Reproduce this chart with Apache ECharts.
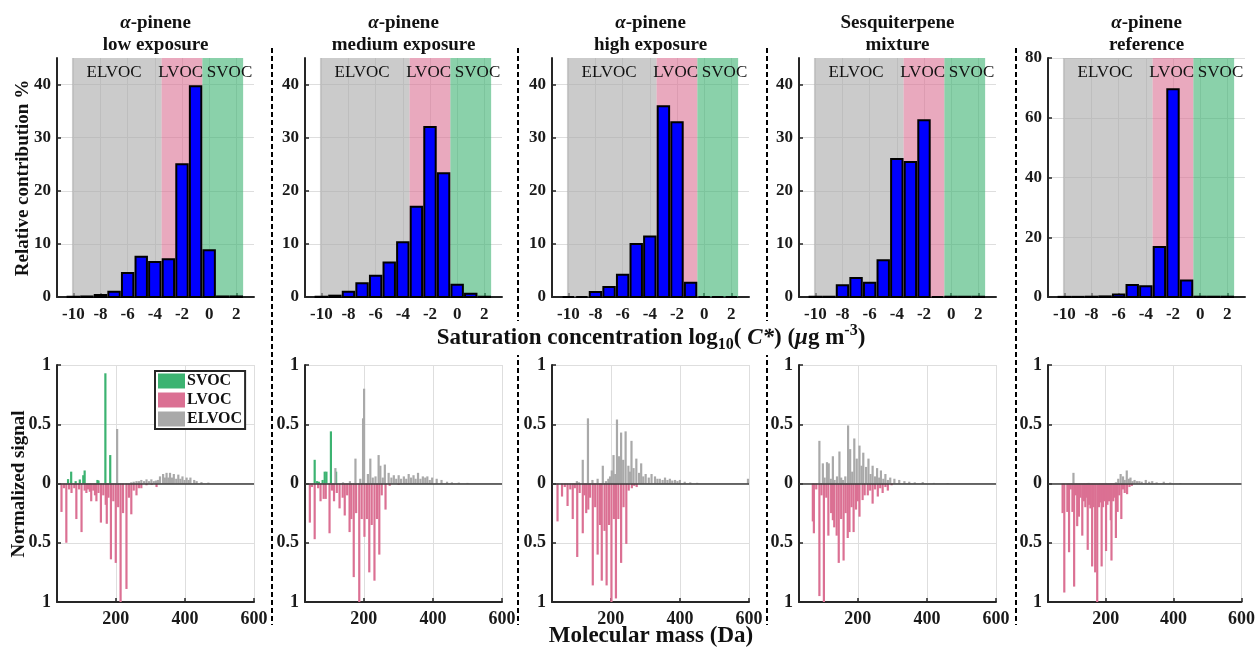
<!DOCTYPE html>
<html><head><meta charset="utf-8">
<script src="https://cdn.jsdelivr.net/npm/echarts@6/dist/echarts.min.js"></script>
<style>html,body{margin:0;padding:0;background:#fff}#c{width:1258px;height:650px}</style>
</head><body><div id="c"></div>
<script>
// ---------------- data ----------------
const panelTitles = [
  ['α-pinene', 'low exposure'],
  ['α-pinene', 'medium exposure'],
  ['α-pinene', 'high exposure'],
  ['Sesquiterpene', 'mixture'],
  ['α-pinene', 'reference']
];
const binCenters = [-10, -9, -8, -7, -6, -5, -4, -3, -2, -1, 0, 1, 2];
const histLow  = [0.05, 0.1, 0.4, 1.0, 4.5, 7.6, 6.6, 7.1, 25.0, 39.7, 8.8, 0.1, 0.1];
const histMed  = [0.05, 0.25, 1.0, 2.6, 4.0, 6.5, 10.3, 17.0, 32.0, 23.3, 2.3, 0.6, 0.05];
const histHigh = [0, 0, 0.94, 1.9, 4.2, 10.0, 11.4, 35.9, 32.9, 2.7, 0, 0, 0];
const histSesq = [0.05, 0.05, 2.2, 3.6, 2.7, 6.9, 26.0, 25.4, 33.3, 0, 0.05, 0.05, 0.05];
const histRef  = [0.05, 0.05, 0.1, 0.2, 0.8, 4.0, 3.6, 16.7, 69.5, 5.5, 0.1, 0.1, 0.1];
const histYMax = [45, 45, 45, 45, 80];
const histYTicks = [[0,10,20,30,40],[0,10,20,30,40],[0,10,20,30,40],[0,10,20,30,40],[0,20,40,60,80]];
const logCTicks = [-10, -8, -6, -4, -2, 0, 2];
const volatilityClasses = ['ELVOC', 'LVOC', 'SVOC'];
const classEdges = [[-10.1, -3.5], [-3.5, -0.5], [-0.5, 2.5]];
const classLabelX = [-7.0, -2.1, 1.5];
const massTicks = [200, 400, 600];
const signalTicks = [-1, -0.5, 0, 0.5, 1];

// stick spectra [mass (Da), normalized signal]; LVOC plotted downward
const svoc1 = [[62,0.037],[71,0.1],[84,0.02],[96,0.034],[106,0.07],[110,0.11],[147,0.03],[150,0.025],[170,0.93],[184,0.24]];
const lvoc1 = [[43,-0.24],[50,-0.04],[57,-0.5],[65,-0.05],[72,-0.08],[80,-0.04],[86,-0.3],[94,-0.05],[101,-0.41],[110,-0.06],[115,-0.08],[120,-0.05],[125,-0.07],[129,-0.15],[135,-0.06],[140,-0.1],[144,-0.15],[150,-0.08],[157,-0.33],[164,-0.1],[171,-0.18],[174,-0.34],[179,-0.12],[186,-0.64],[193,-0.15],[200,-0.67],[207,-0.2],[214,-1.0],[221,-0.25],[231,-0.89],[238,-0.12],[245,-0.26],[252,-0.06],[260,-0.1],[267,-0.04],[274,-0.04],[289,-0.015],[304,-0.01],[318,-0.03]];
const elvoc1 = [[204,0.46],[245,0.01],[252,0.015],[260,0.02],[267,0.02],[274,0.03],[282,0.02],[289,0.035],[296,0.02],[303,0.035],[310,0.02],[316,0.025],[322,0.03],[328,0.06],[337,0.08],[342,0.05],[347,0.09],[352,0.05],[357,0.09],[363,0.05],[368,0.08],[375,0.04],[381,0.075],[387,0.04],[393,0.06],[399,0.03],[405,0.05],[411,0.03],[416,0.05],[427,0.03],[434,0.02],[448,0.012],[468,0.008]];

const svoc2 = [[58,0.2],[65,0.02],[70,0.015],[81,0.03],[87,0.1],[92,0.1],[105,0.44],[120,0.1],[198,0.015]];
const lvoc2 = [[44,-0.33],[50,-0.03],[58,-0.47],[68,-0.04],[75,-0.15],[84,-0.13],[90,-0.13],[101,-0.42],[108,-0.06],[114,-0.15],[122,-0.08],[130,-0.21],[139,-0.12],[145,-0.27],[152,-0.1],[159,-0.41],[164,-0.3],[171,-0.79],[178,-0.25],[187,-1.0],[194,-0.3],[202,-0.45],[209,-0.3],[216,-0.75],[223,-0.35],[231,-0.82],[238,-0.3],[245,-0.6],[252,-0.1],[263,-0.22],[275,-0.02],[301,-0.01]];
const elvoc2 = [[118,0.13],[140,0.01],[160,0.02],[176,0.21],[190,0.04],[198,0.55],[201,0.8],[212,0.08],[219,0.21],[226,0.05],[234,0.06],[243,0.24],[248,0.15],[255,0.05],[261,0.16],[272,0.09],[280,0.05],[287,0.07],[294,0.04],[301,0.07],[308,0.04],[316,0.06],[323,0.04],[330,0.08],[337,0.05],[344,0.07],[350,0.04],[357,0.09],[364,0.04],[371,0.06],[378,0.05],[384,0.06],[391,0.03],[398,0.05],[411,0.04],[425,0.03],[441,0.015],[455,0.01],[475,0.008],[500,0.005]];

const svoc3 = [];
const lvoc3 = [[46,-0.32],[59,-0.11],[67,-0.03],[75,-0.19],[83,-0.05],[90,-0.3],[96,-0.04],[103,-0.62],[110,-0.08],[119,-0.42],[124,-0.1],[129,-0.25],[135,-0.22],[140,-0.12],[148,-0.86],[155,-0.2],[162,-0.6],[169,-0.35],[174,-0.82],[182,-0.4],[188,-0.86],[195,-0.35],[202,-1.0],[209,-0.3],[215,-0.97],[222,-0.3],[230,-0.67],[237,-0.2],[245,-0.51],[252,-0.06],[261,-0.04],[268,-0.02],[275,-0.03]];
const elvoc3 = [[102,0.02],[108,0.01],[119,0.2],[134,0.55],[147,0.03],[162,0.04],[177,0.15],[186,0.02],[193,0.04],[198,0.06],[203,0.11],[208,0.24],[213,0.08],[218,0.54],[224,0.23],[230,0.43],[236,0.2],[243,0.44],[251,0.15],[256,0.1],[260,0.36],[266,0.13],[274,0.21],[282,0.09],[288,0.17],[294,0.06],[301,0.08],[310,0.05],[318,0.08],[328,0.06],[335,0.04],[342,0.04],[350,0.03],[357,0.05],[364,0.03],[371,0.04],[378,0.025],[386,0.03],[393,0.02],[400,0.03],[414,0.015],[430,0.01],[450,0.006],[597,0.04]];

const svoc4 = [];
const lvoc4 = [[70,-0.32],[73,-0.42],[80,-0.05],[89,-0.95],[95,-0.1],[102,-1.0],[109,-0.12],[115,-0.44],[123,-0.25],[128,-0.31],[132,-0.37],[139,-0.44],[145,-0.67],[152,-0.3],[159,-0.65],[165,-0.25],[171,-0.46],[176,-0.41],[182,-0.2],[188,-0.41],[195,-0.22],[200,-0.15],[205,-0.28],[214,-0.14],[220,-0.1],[229,-0.1],[236,-0.06],[243,-0.17],[250,-0.05],[258,-0.11],[265,-0.04],[272,-0.08],[280,-0.03],[287,-0.06],[298,-0.015]];
const elvoc4 = [[89,0.36],[99,0.17],[104,0.05],[111,0.18],[116,0.17],[122,0.04],[128,0.23],[133,0.03],[140,0.06],[147,0.27],[152,0.05],[157,0.03],[164,0.06],[172,0.49],[178,0.29],[184,0.1],[190,0.38],[197,0.21],[205,0.32],[211,0.15],[216,0.26],[224,0.14],[231,0.21],[237,0.08],[243,0.15],[250,0.06],[256,0.13],[262,0.05],[267,0.11],[274,0.04],[280,0.08],[287,0.03],[294,0.05],[306,0.04],[320,0.03],[335,0.02],[349,0.015],[365,0.01],[388,0.012],[420,0.005],[460,0.004]];

const svoc5 = [];
const lvoc5 = [[73,-0.25],[78,-0.92],[87,-0.24],[92,-0.58],[97,-0.05],[102,-0.24],[107,-0.87],[112,-0.1],[116,-0.36],[121,-0.28],[126,-0.12],[131,-0.44],[136,-0.15],[140,-0.2],[145,-0.12],[147,-0.56],[151,-0.18],[155,-0.21],[160,-0.7],[164,-0.2],[169,-0.75],[175,-1.0],[180,-0.2],[184,-0.16],[188,-0.7],[192,-0.2],[196,-0.15],[201,-0.57],[205,-0.18],[210,-0.15],[215,-0.31],[217,-0.65],[222,-0.15],[226,-0.12],[230,-0.46],[235,-0.24],[240,-0.1],[246,-0.3],[251,-0.05],[256,-0.08],[263,-0.09],[270,-0.03],[277,-0.02]];
const elvoc5 = [[105,0.09],[150,0.005],[200,0.005],[230,0.01],[237,0.04],[244,0.08],[251,0.06],[256,0.03],[262,0.11],[268,0.04],[273,0.05],[279,0.02],[285,0.03],[292,0.02],[299,0.02],[306,0.015],[318,0.03],[328,0.015],[337,0.02],[350,0.01],[371,0.015],[390,0.008],[420,0.004]];

// ---------------- layout / style ----------------
const FONT = "'Liberation Serif','Times New Roman',serif";
const AX = '#262626';
const GRIDC = '#dedede';
const COL = {SVOC: '#3cb371', LVOC: '#db7093', ELVOC: '#a9a9a9'};
const SHADE = {SVOC: 'rgba(60,179,113,0.6)', LVOC: 'rgba(219,112,147,0.6)', ELVOC: 'rgba(169,169,169,0.6)'};
const lefts = [57, 305, 552, 799, 1048];
const W = 197;
const hists = [histLow, histMed, histHigh, histSesq, histRef];
const spectra = [[svoc1, lvoc1, elvoc1],[svoc2, lvoc2, elvoc2],[svoc3, lvoc3, elvoc3],[svoc4, lvoc4, elvoc4],[svoc5, lvoc5, elvoc5]];

const grid = [], xAxis = [], yAxis = [], series = [], graphic = [];

function axisCommon(fs) {
  return {
    axisLine: {show: true, onZero: false, lineStyle: {color: AX, width: 2}},
    axisTick: {show: true, inside: true, length: 4, lineStyle: {color: AX, width: 1.5}},
    splitLine: {show: true, lineStyle: {color: GRIDC, width: 1}},
    axisLabel: {color: '#1a1a1a', fontFamily: FONT, fontWeight: 'bold', fontSize: fs}
  };
}

for (let p = 0; p < 5; p++) {
  // ---- top histogram ----
  const gi = grid.length;
  grid.push({left: lefts[p], top: 58, width: W, height: 239});
  const xa = axisCommon(17);
  xa.axisLabel.customValues = logCTicks; xa.axisLabel.margin = 9;
  xa.axisTick.customValues = logCTicks;
  xAxis.push(Object.assign({type: 'value', gridIndex: gi, min: -11.2, max: 3.3}, xa));
  const ya = axisCommon(17);
  ya.axisLabel.customValues = histYTicks[p]; ya.axisLabel.margin = 6;
  ya.axisTick.customValues = histYTicks[p];
  yAxis.push(Object.assign({type: 'value', gridIndex: gi, min: 0, max: histYMax[p]}, ya));

  const ymax = histYMax[p];
  series.push({
    type: 'custom', xAxisIndex: gi, yAxisIndex: gi, silent: true,
    data: binCenters.map((c, i) => [c, hists[p][i]]),
    encode: {x: 0, y: 1},
    markArea: {
      silent: true,
      data: volatilityClasses.map((k, i) => [
        {xAxis: classEdges[i][0], itemStyle: {color: SHADE[k]}},
        {xAxis: classEdges[i][1]}
      ])
    },
    renderItem: function (params, api) {
      const x = api.value(0), y = api.value(1);
      const a = api.coord([x - 0.42, 0]);
      const b = api.coord([x + 0.42, y]);
      return {type: 'rect', shape: {x: a[0], y: b[1], width: b[0] - a[0], height: a[1] - b[1]},
              style: {fill: '#0000ff', stroke: '#000', lineWidth: 2}};
    },
    z: 3
  });
  series.push({
    type: 'custom', xAxisIndex: gi, yAxisIndex: gi, silent: true,
    data: classLabelX.map((x, i) => [x, ymax * 0.94, i]),
    encode: {x: 0, y: 1},
    renderItem: function (params, api) {
      const pt = api.coord([api.value(0), api.value(1)]);
      return {type: 'text', x: pt[0], y: pt[1],
              style: {text: volatilityClasses[api.value(2)], fill: '#111', fontFamily: FONT, fontSize: 17,
                      align: 'center', verticalAlign: 'middle'}};
    },
    z: 4
  });

  // ---- bottom spectrum ----
  const gj = grid.length;
  grid.push({left: lefts[p], top: 365, width: W, height: 237});
  const xb = axisCommon(18);
  xb.axisLabel.customValues = massTicks; xb.axisLabel.margin = 8;
  xb.axisTick.customValues = massTicks;
  xAxis.push(Object.assign({type: 'value', gridIndex: gj, min: 30, max: 600}, xb));
  const yb = axisCommon(18);
  yb.axisLabel.formatter = v => String(Math.abs(v)); yb.axisLabel.margin = 6;
  yAxis.push(Object.assign({type: 'value', gridIndex: gj, min: -1, max: 1, interval: 0.5}, yb));

  ['SVOC', 'LVOC', 'ELVOC'].forEach((name, k) => {
    const s = {
      type: 'custom', name: name, xAxisIndex: gj, yAxisIndex: gj, silent: true,
      itemStyle: {color: COL[name]},
      data: spectra[p][k], encode: {x: 0, y: 1},
      renderItem: function (params, api) {
        const a = api.coord([api.value(0), 0]);
        const b = api.coord([api.value(0), api.value(1)]);
        return {type: 'rect', shape: {x: a[0] - 1.1, y: Math.min(a[1], b[1]), width: 2.2, height: Math.abs(a[1] - b[1])},
                style: {fill: COL[name]}};
      },
      z: 3
    };
    if (name === 'LVOC') {
      s.markLine = {silent: true, symbol: 'none', label: {show: false},
                    lineStyle: {color: '#3a3a3a', width: 1.5, type: 'solid'},
                    data: [{yAxis: 0}]};
    }
    series.push(s);
  });

  // ---- panel titles ----
  const cx = lefts[p] + W / 2;
  const t1 = panelTitles[p][0];
  graphic.push({type: 'text', x: cx, y: 23, z: 10,
    style: {text: t1.startsWith('α') ? '{i|α}{b|' + t1.slice(1) + '}' : '{b|' + t1 + '}',
            align: 'center', verticalAlign: 'middle',
            rich: {i: {fontFamily: FONT, fontStyle: 'italic', fontWeight: 'bold', fontSize: 19, fill: '#111'},
                   b: {fontFamily: FONT, fontWeight: 'bold', fontSize: 19, fill: '#111'}}}});
  graphic.push({type: 'text', x: cx, y: 45, z: 10,
    style: {text: panelTitles[p][1], align: 'center', verticalAlign: 'middle',
            fontFamily: FONT, fontWeight: 'bold', fontSize: 19, fill: '#111'}});
}

// dashed separators
[272, 518, 767, 1016].forEach(x => {
  graphic.push({type: 'line', z: 5, shape: {x1: x, y1: 48, x2: x, y2: 625},
                style: {stroke: '#000', lineWidth: 2, lineDash: [5, 3]}});
});

// axis titles
graphic.push({type: 'text', x: 23, y: 178, rotation: Math.PI / 2, z: 10,
  style: {text: 'Relative contribution %', align: 'center', verticalAlign: 'middle',
          fontFamily: FONT, fontWeight: 'bold', fontSize: 19, fill: '#111'}});
graphic.push({type: 'text', x: 19, y: 484, rotation: Math.PI / 2, z: 10,
  style: {text: 'Normalized signal', align: 'center', verticalAlign: 'middle',
          fontFamily: FONT, fontWeight: 'bold', fontSize: 19, fill: '#111'}});
graphic.push({type: 'text', x: 651, y: 338, z: 10,
  style: {text: '{b|Saturation concentration log}{sub|10}{b|( }{i|C*}{b|) (}{i|μ}{b|g m}{sup|-3}{b|)}',
          align: 'center', verticalAlign: 'middle', backgroundColor: '#fff', padding: [2, 4],
          rich: {
            b: {fontFamily: FONT, fontWeight: 'bold', fontSize: 23, lineHeight: 30, fill: '#111', verticalAlign: 'middle'},
            i: {fontFamily: FONT, fontWeight: 'bold', fontStyle: 'italic', fontSize: 23, lineHeight: 30, fill: '#111', verticalAlign: 'middle'},
            sub: {fontFamily: FONT, fontWeight: 'bold', fontSize: 16, lineHeight: 16, fill: '#111', verticalAlign: 'bottom'},
            sup: {fontFamily: FONT, fontWeight: 'bold', fontSize: 16, lineHeight: 16, fill: '#111', verticalAlign: 'top'}
          }}});
graphic.push({type: 'text', x: 651, y: 636, z: 10,
  style: {text: 'Molecular mass (Da)', align: 'center', verticalAlign: 'middle', backgroundColor: '#fff',
          fontFamily: FONT, fontWeight: 'bold', fontSize: 23, fill: '#111'}});

const option = {
  animation: false,
  backgroundColor: '#fff',
  grid, xAxis, yAxis, series, graphic,
  legend: {
    data: ['SVOC', 'LVOC', 'ELVOC'], orient: 'vertical', left: 155, top: 371,
    icon: 'rect', itemWidth: 27, itemHeight: 15, itemGap: 3, padding: [2, 3, 2, 3],
    borderColor: '#262626', borderWidth: 2, backgroundColor: '#fff', selectedMode: false,
    textStyle: {fontFamily: FONT, fontWeight: 'bold', fontSize: 16, color: '#111', padding: [0, 0, 0, -3]}
  }
};
const chart = echarts.init(document.getElementById('c'), null, {renderer: 'canvas'});
chart.setOption(option);
</script></body></html>
